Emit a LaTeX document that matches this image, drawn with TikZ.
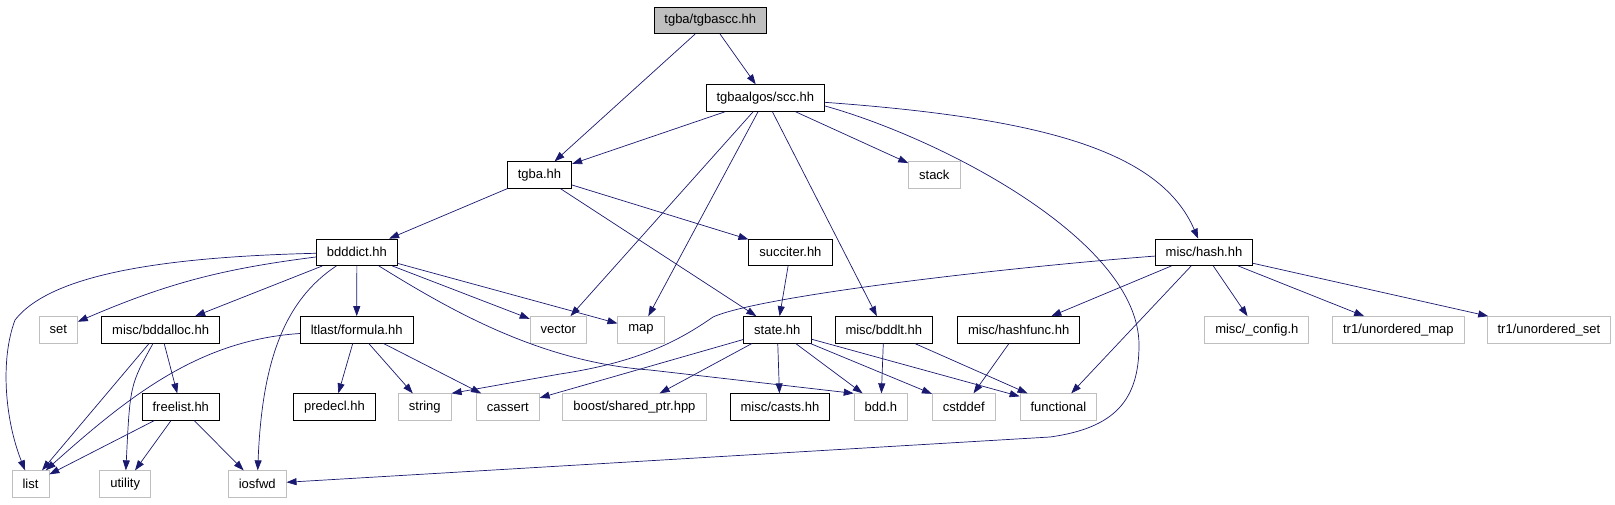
\documentclass[tikz,border=0pt]{standalone}
\usepackage{fontspec}
\setmainfont{Liberation Sans}
\usetikzlibrary{arrows.meta}
\definecolor{edgeblue}{HTML}{191970}
\definecolor{sysgray}{HTML}{BFBFBF}

\begin{document}
\begin{tikzpicture}[x=1pt, y=-1pt,
    hdr/.style={draw=black, line width=0.8pt, minimum height=26.5pt, inner xsep=10.5pt, inner ysep=0pt, font=\fontsize{13}{15}\selectfont},
    sys/.style={hdr, draw=sysgray},
    dep/.style={draw=edgeblue, line width=0.7pt, -{Triangle[length=10pt,width=7pt]}}]
    \useasboundingbox (0,0) rectangle (1615,504);
    \node[hdr, fill=sysgray] (root) at (710.3,20.3) {tgba/tgbascc.hh};
    \node[hdr] (scc) at (765.4,98) {tgbaalgos/scc.hh};
    \node[hdr] (tgba) at (539.5,175) {tgba.hh}; \node[sys] (stack) at (934.3,175) {stack};
    \node[hdr] (bdddict) at (356.9,252.3) {bdddict.hh}; \node[hdr] (succiter) at (790.4,252.3) {succiter.hh};
    \node[hdr] (hash) at (1204,252.3) {misc/hash.hh};

    \node[sys] (set) at (58.2,329.8) {set}; \node[hdr] (bddalloc) at (160.6,329.8) {misc/bddalloc.hh};
    \node[hdr] (formula) at (356.7,329.8) {ltlast/formula.hh}; \node[sys] (vector) at (558.3,329.8) {vector};
    \node[sys] (map) at (641,329.8) {map}; \node[hdr] (state) at (777.3,329.8) {state.hh};
    \node[hdr] (bddlt) at (883.8,329.8) {misc/bddlt.hh}; \node[hdr] (hashfunc) at (1018.7,329.8) {misc/hashfunc.hh};
    \node[sys] (config) at (1256.8,329.8) {misc/\_config.h}; \node[sys] (umap) at (1398.4,329.8) {tr1/unordered\_map};
    \node[sys] (uset) at (1548.9,329.8) {tr1/unordered\_set};

    \node[hdr] (freelist) at (180.8,407) {freelist.hh}; \node[hdr] (predecl) at (334.4,407) {predecl.hh};
    \node[sys] (string) at (424.8,407) {string}; \node[sys] (cassert) at (507.8,407) {cassert};
    \node[sys] (boost) at (634.4,407) {boost/shared\_ptr.hpp}; \node[hdr] (casts) at (779.9,407) {misc/casts.hh};
    \node[sys] (bdd) at (880.9,407) {bdd.h}; \node[sys] (cstddef) at (963.8,407) {cstddef};
    \node[sys] (functional) at (1058.4,407) {functional};

    \node[sys] (list) at (30.5,484) {list}; \node[sys] (utility) at (125.2,484) {utility};
    \node[sys] (iosfwd) at (257.2,484) {iosfwd};

    \foreach \a/\b in {root/tgba, root/scc, scc/tgba, scc/vector, scc/map, scc/bddlt, scc/stack,
        tgba/bdddict, tgba/succiter, tgba/state, succiter/state, bdddict/bddalloc, bdddict/formula,
        bdddict/vector, bdddict/map, hash/hashfunc, hash/functional, hash/config, hash/umap, hash/uset,
        bddalloc/list, bddalloc/freelist, formula/predecl, formula/string, formula/cassert,
        state/cassert, state/boost, state/casts, state/bdd, state/cstddef, state/functional,
        bddlt/bdd, bddlt/functional, hashfunc/cstddef, freelist/list, freelist/utility, freelist/iosfwd}
        \draw[dep] (\a) -- (\b);

    \draw[dep] ([yshift=-8pt]scc.east) .. controls (940,138) and (1139,240) .. (1139,345) .. controls (1139,400) and (1115,428) .. (1050,437) -- (iosfwd);
    \draw[dep] (scc) .. controls (1040,118) and (1160,150) .. (hash);
    \draw[dep] (bdddict) .. controls (160,257) and (50,275) .. (15,320) .. controls (0,360) and (5,420) .. (list);
    \draw[dep] (bdddict) to[bend right=8] (set);
    \draw[dep] (bdddict) .. controls (285,300) and (262,360) .. (iosfwd);
    \draw[dep] (bdddict) .. controls (450,310) and (540,362) .. (650,370) -- (bdd.north west);
    \draw[dep] (hash) .. controls (1000,268) and (760,296) .. (713,317) .. controls (680,340) and (640,362) .. (560,374) -- (string.north east);
    \draw[dep] (bddalloc) .. controls (130,385) .. (utility);
    \draw[dep] (formula) .. controls (200,340) and (130,395) .. (list);
\end{tikzpicture}
\end{document}
